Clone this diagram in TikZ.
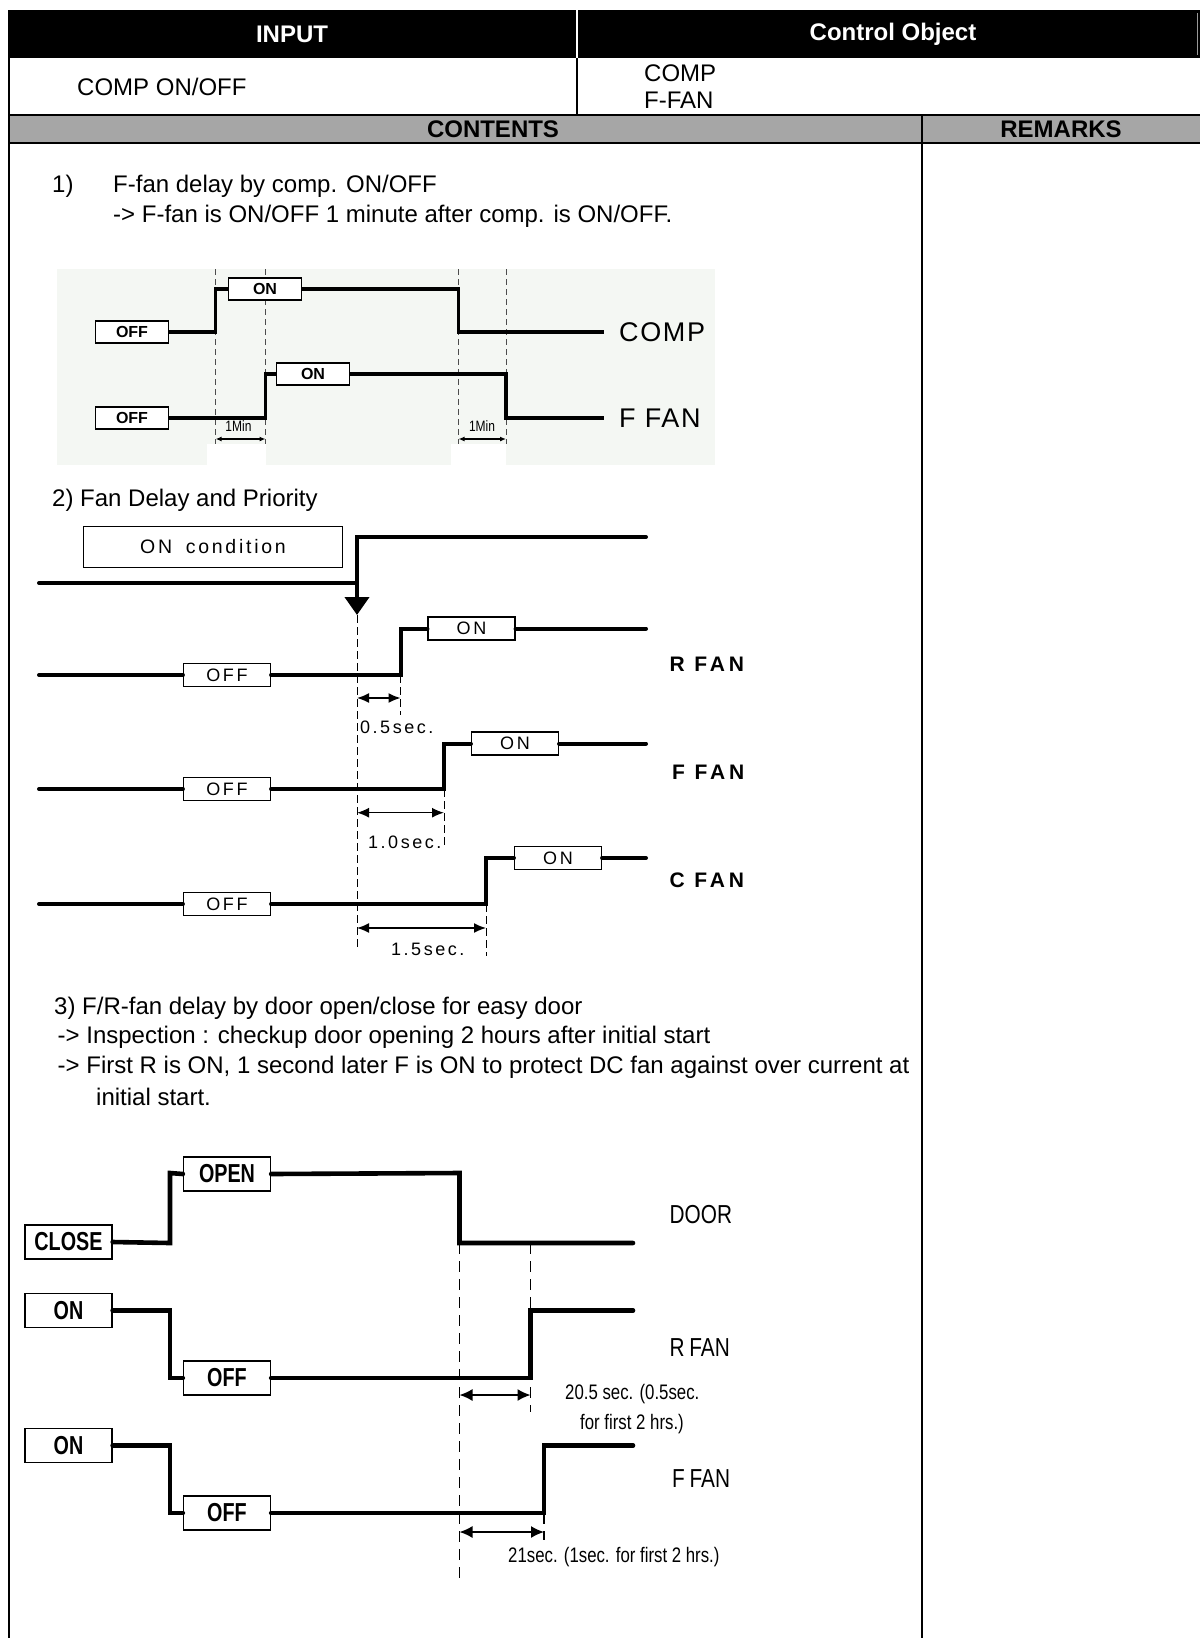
\documentclass[tikz,border=0pt]{standalone}
\usepackage{fontspec}
\setmainfont{Liberation Sans}
\newfontfamily\narrowf[FakeStretch=0.8]{Liberation Sans}
\newfontfamily\narrowbox[FakeStretch=0.76]{Liberation Sans Bold}
\newfontfamily\spacedf[LetterSpace=14]{Liberation Sans}
\newfontfamily\spacedb[LetterSpace=18]{Liberation Sans Bold}
\newfontfamily\lightsp[LetterSpace=6]{Liberation Sans}
\usetikzlibrary{arrows.meta}
\definecolor{hdrgray}{gray}{0.65}
\definecolor{bgone}{RGB}{244,247,243}
\begin{document}
\begin{tikzpicture}[x=1pt,y=-1pt,
  txt/.style={inner sep=0pt,anchor=west,font=\fontsize{24}{29}\selectfont},
  hdr/.style={inner sep=0pt,font=\fontsize{24}{29}\selectfont\bfseries},
  rule/.style={line width=2pt},
  sigone/.style={line width=3.3pt},
  sigtwo/.style={line width=4pt,line cap=round},
  sigthree/.style={line width=4.6pt,line cap=round},
  boxone/.style={draw,line width=1.1pt,fill=white,minimum width=73pt,minimum height=22pt,inner sep=0pt,font=\fontsize{16}{16}\selectfont\bfseries},
  boxtwo/.style={draw,line width=1.1pt,fill=white,minimum width=87pt,minimum height=23pt,inner sep=0pt,font=\spacedf\fontsize{18}{18}\selectfont},
  boxthree/.style={draw,line width=1.3pt,fill=white,minimum width=87pt,minimum height=34pt,inner sep=0pt,font=\narrowbox\fontsize{26}{26}\selectfont},
  dashone/.style={line width=0.9pt,dash pattern=on 6pt off 4pt,black!70},
  dashtwo/.style={line width=1pt,dash pattern=on 8pt off 4pt},
  dashthree/.style={line width=1.2pt,dash pattern=on 11pt off 7pt},
  dimone/.style={line width=1.2pt,{Latex[length=6pt,width=5pt]}-{Latex[length=6pt,width=5pt]}},
  dimtwo/.style={line width=1.5pt,{Latex[length=12pt,width=10pt]}-{Latex[length=12pt,width=10pt]}},
  dimthree/.style={line width=1.5pt,{Latex[length=13pt,width=12pt]}-{Latex[length=13pt,width=12pt]}},
  labone/.style={inner sep=0pt,anchor=west,font=\lightsp\fontsize{27}{27}\selectfont},
  smallone/.style={inner sep=0pt,font=\narrowf\fontsize{15}{15}\selectfont},
  labtwo/.style={inner sep=0pt,anchor=west,font=\spacedb\fontsize{21}{21}\selectfont},
  sectwo/.style={inner sep=0pt,anchor=west,font=\spacedf\fontsize{18}{18}\selectfont},
  labthree/.style={inner sep=0pt,anchor=west,font=\narrowf\fontsize{26}{26}\selectfont},
  secthree/.style={inner sep=0pt,anchor=west,font=\narrowf\fontsize{21}{21}\selectfont}
]
\useasboundingbox (0,0) rectangle (1200,1638);

% ---------- table ----------
\fill[black] (8.5,10) rectangle (1200,58);
\draw[white,line width=1.2pt] (577,10) -- (577,58);
\draw[black!40,line width=1pt] (1197.5,13) -- (1197.5,55);
\fill[hdrgray] (8.5,115) rectangle (1200,143);
\draw[rule] (8.5,10) -- (8.5,1638);
\draw[line width=1.2pt] (577,58) -- (577,115);
\draw[line width=2.6pt] (8.5,115) -- (1200,115);
\draw[rule] (8.5,143) -- (1200,143);
\draw[rule] (922,115) -- (922,1638);

\node[hdr,text=white] (hin) at (292,34) {INPUT};
\node[hdr,text=white] (hco) at (893,34) {Control Object};
\node[txt] (cin) at (77,87) {COMP ON/OFF};
\node[txt] (coa) at (644,73) {COMP};
\node[txt] (cob) at (644,100) {F-FAN};
\node[hdr] (hct) at (493,129) {CONTENTS};
\node[hdr] (hrm) at (1061,129) {REMARKS};

% ---------- section 1 ----------
\node[txt] (sa) at (52,186) {1)};
\node[txt] (sb) at (113,186) {F-fan delay by comp. ON/OFF};
\node[txt] (sc) at (113,216) {-> F-fan is ON/OFF 1 minute after comp. is ON/OFF.};

\fill[bgone] (57,269) rectangle (715,465);
\fill[white] (207,444) rectangle (266,465);
\fill[white] (451,444) rectangle (506,465);
\draw[dashone] (215.6,269) -- (215.6,444);
\draw[dashone] (265.5,269) -- (265.5,444);
\draw[dashone] (458.5,269) -- (458.5,444);
\draw[dashone] (506,269) -- (506,444);

\node[boxone] (caoff) at (132,332) {OFF};
\node[boxone] (caon) at (265,289) {ON};
\coordinate (caend) at (604,332);
\draw[sigone] (caoff.east) -- (215.6,332) -- (215.6,289) -- (caon.west);
\draw[sigone] (caon.east) -- (458.5,289) -- (458.5,332) -- (caend);
\node[labone] (comp) at (619,332) {COMP};

\node[boxone] (faoff) at (132,418) {OFF};
\node[boxone] (faon) at (313,374) {ON};
\coordinate (faend) at (604,418);
\draw[sigone] (faoff.east) -- (265.5,418) -- (265.5,374) -- (faon.west);
\draw[sigone] (faon.east) -- (506,374) -- (506,418) -- (faend);
\node[labone] (ffan) at (619,418) {F FAN};

\coordinate (ma) at (215.6,439);
\coordinate (mb) at (265.5,439);
\coordinate (mc) at (458.5,439);
\coordinate (md) at (506,439);
\draw[dimone] (ma) -- (mb);
\draw[dimone] (mc) -- (md);
\node[smallone] (mina) at (238.5,426) {1Min};
\node[smallone] (minb) at (482,426) {1Min};

% ---------- section 2 ----------
\node[txt] (ta) at (52,500) {2) Fan Delay and Priority};
\node[draw,line width=1.1pt,minimum width=259pt,minimum height=41pt,inner sep=0pt,font=\spacedf\fontsize{19.5}{19.5}\selectfont] (cond) at (213,547) {ON\hspace{0.7em}condition};
\coordinate (ua) at (39,583);
\coordinate (ub) at (646,537);
\draw[sigtwo] (ua) -- (357,583) -- (357,537) -- (ub);
\coordinate (tip) at (357,615);
\draw[line width=4pt,-{Triangle[length=18pt,width=24pt]}] (357,583) -- (tip);
\coordinate (dbot) at (357,950);
\draw[dashtwo] (tip) -- (dbot);

% R FAN
\coordinate (ra) at (39,675);
\node[boxtwo] (roff) at (227,675) {OFF};
\node[boxtwo] (ron) at (471.5,628.5) {ON};
\coordinate (rend) at (646,628.5);
\draw[sigtwo] (ra) -- (roff.west);
\draw[sigtwo] (roff.east) -- (400.5,675) -- (400.5,628.5) -- (ron.west);
\draw[sigtwo] (ron.east) -- (rend);
\node[labtwo] (rlab) at (669.5,664) {R FAN};
\draw[dashtwo] (400.5,675) -- (400.5,715);
\draw[dimtwo] (357,698) -- (400.5,698);
\node[sectwo] (rdel) at (360,727) {0.5sec.};

% F FAN
\coordinate (fa) at (39,789);
\node[boxtwo] (foff) at (227,789) {OFF};
\node[boxtwo] (fon) at (515,743.5) {ON};
\coordinate (fend) at (646,743.5);
\draw[sigtwo] (fa) -- (foff.west);
\draw[sigtwo] (foff.east) -- (444,789) -- (444,743.5) -- (fon.west);
\draw[sigtwo] (fon.east) -- (fend);
\node[labtwo] (flab) at (672,772) {F FAN};
\draw[dashtwo] (444,789) -- (444,847);
\draw[dimtwo] (357,812.7) -- (444,812.7);
\node[sectwo] (fdel) at (368,842) {1.0sec.};

% C FAN
\coordinate (ca) at (39,904);
\node[boxtwo] (coff) at (227,904) {OFF};
\node[boxtwo] (con) at (558,858) {ON};
\coordinate (cend) at (646,858);
\draw[sigtwo] (ca) -- (coff.west);
\draw[sigtwo] (coff.east) -- (486,904) -- (486,858) -- (con.west);
\draw[sigtwo] (con.east) -- (cend);
\node[labtwo] (clab) at (669.5,880) {C FAN};
\draw[dashtwo] (486,904) -- (486,956);
\draw[dimtwo] (357,928) -- (486,928);
\node[sectwo] (cdel) at (391,949) {1.5sec.};

% ---------- section 3 ----------
\node[txt] (va) at (54,1008) {3) F/R-fan delay by door open/close for easy door};
\node[txt] (vb) at (57.5,1037) {-> Inspection : checkup door opening 2 hours after initial start};
\node[txt] (vc) at (57.5,1067) {-> First R is ON, 1 second later F is ON to protect DC fan against over current at};
\node[txt] (vd) at (96,1097) {initial start.};

\draw[dashthree] (459.5,1243) -- (459.5,1582);
\draw[dashthree] (530.5,1243) -- (530.5,1412);
\draw[dashthree] (544,1513) -- (544,1540);

% DOOR
\node[boxthree] (dclose) at (68.5,1242) {CLOSE};
\node[boxthree] (dopen) at (227,1174) {OPEN};
\coordinate (dend) at (633,1243);
\draw[sigthree] (dclose.east) -- (170,1243) -- (170,1173) -- (dopen.west);
\draw[sigthree] (dopen.east) -- (459.5,1173) -- (459.5,1243) -- (dend);
\node[labthree] (dlab) at (669.5,1215) {DOOR};

% R FAN
\node[boxthree] (gon) at (68.5,1310.5) {ON};
\node[boxthree] (goff) at (227,1378) {OFF};
\coordinate (gend) at (633,1310.5);
\draw[sigthree] (gon.east) -- (170,1310.5) -- (170,1378) -- (goff.west);
\draw[sigthree] (goff.east) -- (530.5,1378) -- (530.5,1310.5) -- (gend);
\node[labthree] (glab) at (669.5,1348) {R\hspace{0.18em}FAN};
\draw[dimthree] (459.5,1395) -- (530.5,1395);
\node[secthree] (gda) at (565,1394) {20.5 sec. (0.5sec.};
\node[secthree] (gdb) at (580,1424) {for first 2 hrs.)};

% F FAN
\node[boxthree] (hon) at (68.5,1445.5) {ON};
\node[boxthree] (hoff) at (227,1513) {OFF};
\coordinate (hend) at (633,1445.5);
\draw[sigthree] (hon.east) -- (170,1445.5) -- (170,1513) -- (hoff.west);
\draw[sigthree] (hoff.east) -- (544,1513) -- (544,1445.5) -- (hend);
\node[labthree] (hlab) at (672,1479) {F\hspace{0.18em}FAN};
\draw[dimthree] (459.5,1532) -- (544,1532);
\node[secthree] (hd) at (508,1557) {21sec. (1sec. for first 2 hrs.)};
\end{tikzpicture}
\end{document}
